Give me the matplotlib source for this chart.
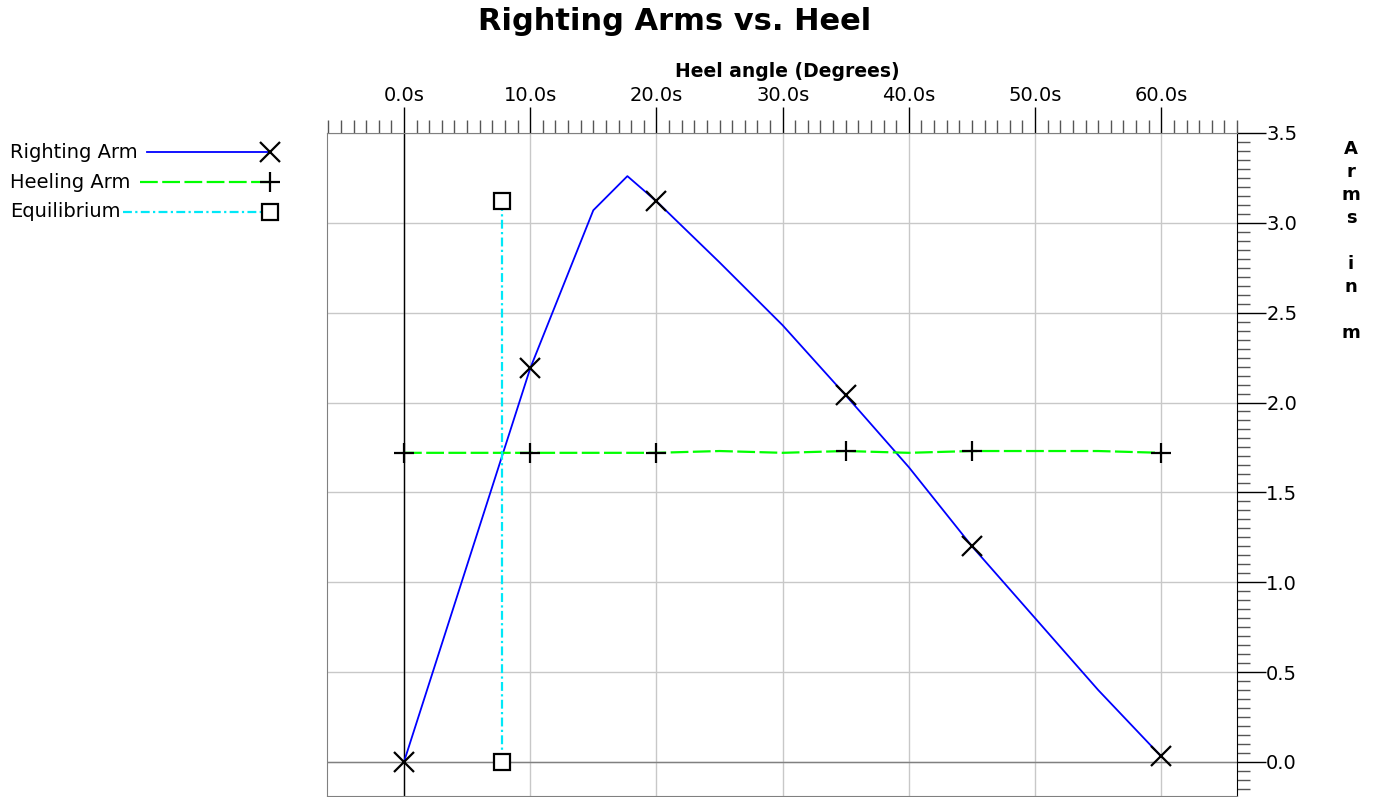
import matplotlib
matplotlib.use("Agg")
import matplotlib.pyplot as plt
from matplotlib.ticker import MultipleLocator, FuncFormatter
from matplotlib.lines import Line2D
import numpy as np

plt.rcParams['font.family'] = ['DejaVu Sans']

# ---- data ----
righting_x = [0, 10, 15, 17.7, 20, 25, 30, 35, 40, 45, 50, 55, 60]
righting_y = [0.0, 2.19, 3.07, 3.26, 3.12, 2.78, 2.43, 2.04, 1.64, 1.20, 0.80, 0.40, 0.03]
righting_marker_x = [0, 10, 20, 35, 45, 60]

heeling_x = [0, 5, 10, 15, 20, 25, 30, 35, 40, 45, 50, 55, 60]
heeling_y = [1.72, 1.72, 1.72, 1.72, 1.72, 1.73, 1.72, 1.73, 1.72, 1.73, 1.73, 1.73, 1.72]
heeling_marker_x = [0, 10, 20, 35, 45, 60]

equil_x = [7.75, 7.75]
equil_y = [0.0, 3.12]

series_labels = ["Righting Arm", "Heeling Arm", "Equilibrium"]
title = "Righting Arms vs. Heel"
xlabel = "Heel angle (Degrees)"
ylabel_letters = "A\nr\nm\ns\n\ni\nn\n\nm"

W, H = 1378, 797
fig = plt.figure(figsize=(W / 100, H / 100), dpi=100)
ax = fig.add_axes([327 / W, 1 - 796 / H, (1237 - 327) / W, (796 - 133) / H])

ax.set_xlim(-6.1, 66)
ax.set_ylim(-0.19, 3.5)

# grid
ax.set_axisbelow(True)
ax.grid(True, which='major', color='#c8c8c8', linewidth=1.0)
ax.axvline(0, color='black', linewidth=1.0, zorder=1)
ax.axhline(0, color='#808080', linewidth=1.0, zorder=1)

blue = '#0000ff'
green = '#00ff00'
cyan = '#00e8f8'

# righting arm
ax.plot(righting_x, righting_y, color=blue, linewidth=1.3, zorder=3)
rmy = np.interp(righting_marker_x, righting_x, righting_y)
ax.plot(righting_marker_x, rmy, linestyle='none', marker='x', markersize=14,
        markeredgewidth=1.6, color='black', zorder=5)

# heeling arm
ax.plot(heeling_x, heeling_y, color=green, linewidth=1.6, linestyle=(0, (8, 2)), zorder=3)
hmy = np.interp(heeling_marker_x, heeling_x, heeling_y)
ax.plot(heeling_marker_x, hmy, linestyle='none', marker='+', markersize=15,
        markeredgewidth=1.6, color='black', zorder=5)

# equilibrium
ax.plot(equil_x, equil_y, color=cyan, linewidth=1.6, linestyle=(0, (4, 1.5, 1, 1.5)), zorder=3)
ax.plot(equil_x, equil_y, linestyle='none', marker='s', markersize=11,
        markerfacecolor='white', markeredgecolor='black', markeredgewidth=1.6, zorder=5)

# axes styling
ax.xaxis.tick_top()
ax.yaxis.tick_right()
ax.xaxis.set_major_locator(MultipleLocator(10))
ax.xaxis.set_minor_locator(MultipleLocator(1))
ax.yaxis.set_major_locator(MultipleLocator(0.5))
ax.yaxis.set_minor_locator(MultipleLocator(0.05))
ax.xaxis.set_major_formatter(FuncFormatter(lambda v, p: f"{v:.1f}s"))
ax.yaxis.set_major_formatter(FuncFormatter(lambda v, p: f"{v:.1f}"))
ax.set_xticks([t for t in range(0, 61, 10)])
ax.tick_params(axis='x', which='major', direction='out', length=19, width=1.0,
               color='black', labelsize=14, pad=1)
ax.tick_params(axis='x', which='minor', direction='out', length=9.5, width=1.0,
               color='#555555')
ax.tick_params(axis='y', which='major', direction='out', length=21, width=1.0,
               color='black', labelsize=14, pad=0)
ax.tick_params(axis='y', which='minor', direction='out', length=9.5, width=1.0,
               color='#555555')
for s in ['left', 'bottom', 'top']:
    ax.spines[s].set_color('#808080')
ax.spines['right'].set_color('black')

ax.set_xlabel(xlabel, fontsize=13.5, fontweight='bold', labelpad=2)
ax.xaxis.set_label_position('top')
ax.xaxis.set_label_coords((787 - 327) / (1237 - 327), 1 + (133 - 72) / (796 - 133))
ax.xaxis.label.set_va('center')

fig.text(675 / W, 1 - 22 / H, title, fontsize=22, fontweight='bold',
         ha='center', va='center')

fig.text(1351 / W, 1 - 241 / H, ylabel_letters, fontsize=13, fontweight='bold',
         ha='center', va='center', multialignment='center', linespacing=1.355)

# legend (manual, outside axes)
leg_rows = [
    (152, 147, dict(color=blue, linewidth=1.3), dict(marker='x', markersize=14, markeredgewidth=1.6, color='black')),
    (182, 140, dict(color=green, linewidth=1.6, linestyle=(0, (8, 2))), dict(marker='+', markersize=15, markeredgewidth=1.6, color='black')),
    (212, 123, dict(color=cyan, linewidth=1.6, linestyle=(0, (4, 1.5, 1, 1.5))), dict(marker='s', markersize=11, markerfacecolor='white', markeredgecolor='black', markeredgewidth=1.6)),
]
for label, (yy, x0, lstyle, mstyle) in zip(series_labels, leg_rows):
    fy = 1 - yy / H
    fig.text(10 / W, fy, label, fontsize=14, ha='left', va='center')
    fig.add_artist(Line2D([x0 / W, 270 / W], [fy, fy], transform=fig.transFigure, **lstyle))
    fig.add_artist(Line2D([270 / W], [fy], transform=fig.transFigure, linestyle='none', **mstyle))

fig.savefig("out.png", dpi=100)
